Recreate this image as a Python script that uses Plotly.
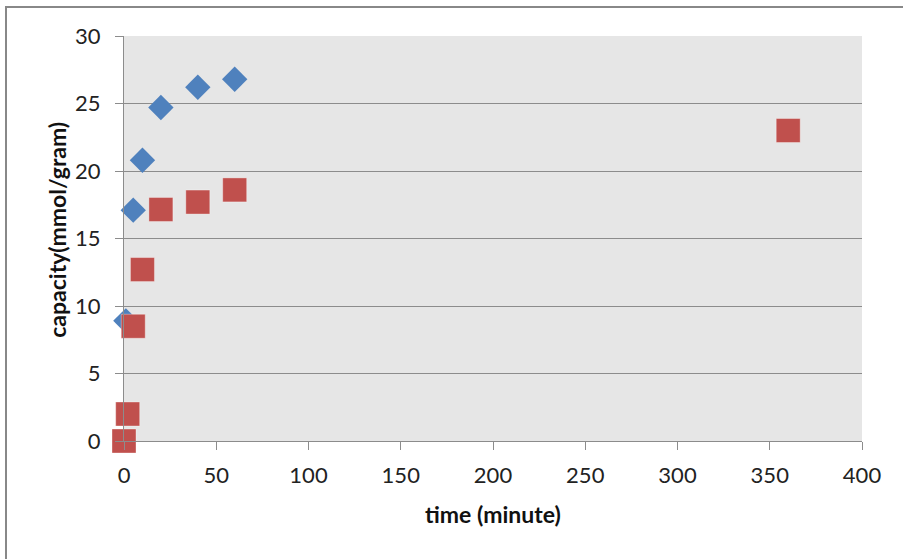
import plotly.graph_objects as go

# Data
blue_time = [1, 5, 10, 20, 40, 60]
blue_capacity = [8.9, 17.1, 20.8, 24.7, 26.2, 26.8]

red_time = [0, 2, 5, 10, 20, 40, 60, 360]
red_capacity = [0.0, 2.0, 8.5, 12.7, 17.15, 17.7, 18.6, 23.0]

x_ticks = [0, 50, 100, 150, 200, 250, 300, 350, 400]
y_ticks = [0, 5, 10, 15, 20, 25, 30]

x_title = "time (minute)"
y_title = "capacity(mmol/gram)"

FONT = "Lato"
GRID = "#8c8c8c"

fig = go.Figure()
fig.add_trace(go.Scatter(
    x=blue_time, y=blue_capacity, mode="markers", name="series 1",
    marker=dict(symbol="diamond", size=19.5, color="#4F81BD",
                line=dict(width=0)),
    cliponaxis=False,
))
fig.add_trace(go.Scatter(
    x=red_time, y=red_capacity, mode="markers", name="series 2",
    marker=dict(symbol="square", size=24, color="#C0504D",
                line=dict(width=1, color="rgba(255,255,255,0.35)")),
    cliponaxis=False,
))

W, H = 903, 559
L, R, T, B = 124, 41, 36, 117.5
pw, ph = W - L - R, H - T - B

fig.update_layout(
    width=W, height=H,
    margin=dict(l=L, r=R, t=T, b=B, pad=0),
    paper_bgcolor="white",
    plot_bgcolor="#E6E6E6",
    showlegend=False,
    font=dict(family=FONT, size=22, color="#222222"),
    xaxis=dict(
        range=[0, 400], tickvals=x_ticks, ticktext=[str(v) for v in x_ticks],
        showgrid=False, zeroline=False,
        showline=True, linecolor=GRID, linewidth=1,
        ticks="outside", ticklen=8, tickcolor=GRID, tickwidth=1,
        ticklabelstandoff=7,
        tickfont=dict(family=FONT, size=22, color="#222222"),
    ),
    yaxis=dict(
        range=[0, 30], tickvals=y_ticks, ticktext=[str(v) for v in y_ticks],
        showgrid=True, gridcolor=GRID, gridwidth=1,
        zeroline=False,
        showline=True, linecolor=GRID, linewidth=1,
        ticks="outside", ticklen=8, tickcolor=GRID, tickwidth=1,
        ticklabelstandoff=10,
        tickfont=dict(family=FONT, size=22, color="#222222"),
    ),
    annotations=[
        dict(text="<b>" + x_title + "</b>", xref="paper", yref="paper",
             x=(493 - L) / pw, y=-(515 - (T + ph)) / ph,
             xanchor="center", yanchor="middle", showarrow=False,
             font=dict(family=FONT, size=23, color="#111111")),
        dict(text="<b>" + y_title + "</b>", xref="paper", yref="paper",
             x=(57 - L) / pw, y=(T + ph - 230) / ph, textangle=-90,
             xanchor="center", yanchor="middle", showarrow=False,
             font=dict(family=FONT, size=23, color="#111111")),
    ],
    shapes=[dict(
        type="rect", xref="paper", yref="paper",
        x0=(6 - L) / pw, x1=(W + 20 - L) / pw,
        y0=-(H + 20 - T - ph) / ph, y1=1 + (T - 7) / ph,
        line=dict(color="#888888", width=2), fillcolor="rgba(0,0,0,0)",
        layer="below",
    )],
)

fig.write_html("out.html", config={"displayModeBar": False})

# remove the default page margin so the figure sits at the window origin
with open("out.html", "r", encoding="utf-8") as f:
    html = f.read()
html = html.replace("<body>", '<body style="margin:0;padding:0;overflow:hidden">', 1)
with open("out.html", "w", encoding="utf-8") as f:
    f.write(html)
